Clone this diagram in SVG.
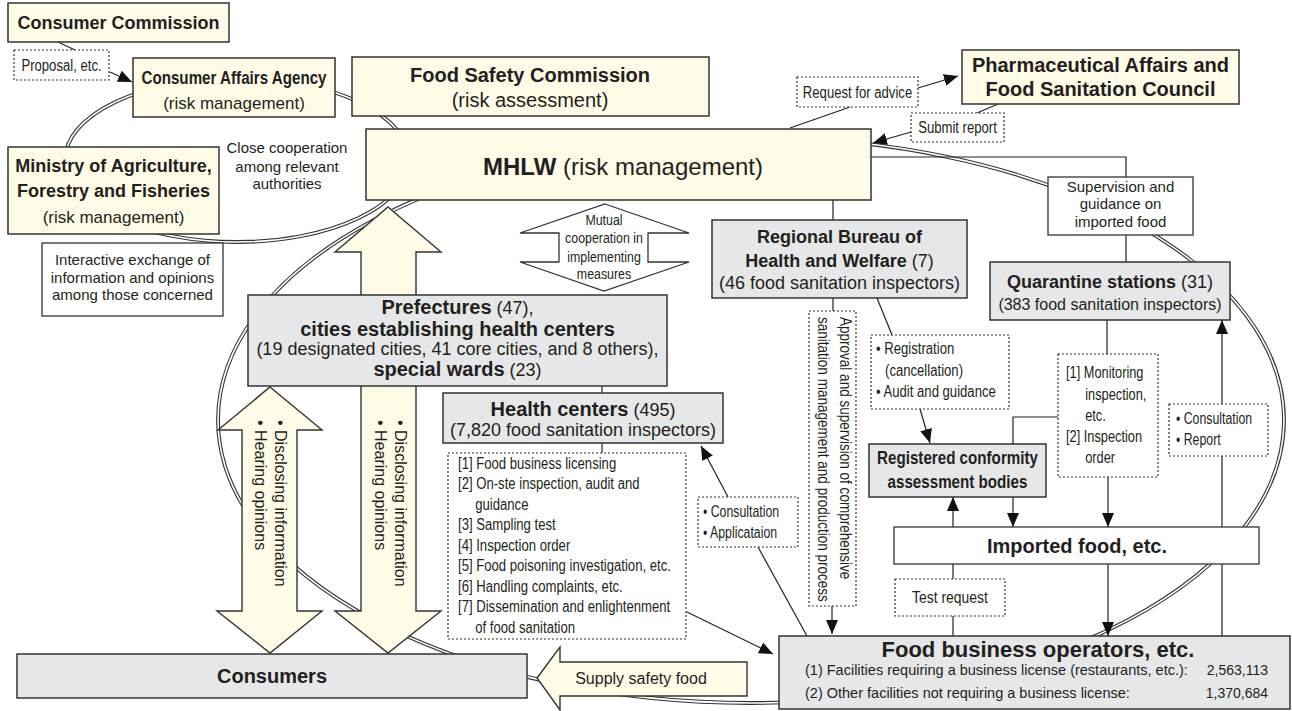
<svg xmlns="http://www.w3.org/2000/svg" width="1292" height="711" viewBox="0 0 1292 711">
<defs>
<style>
.cream{fill:#fffbe6;stroke:#333;stroke-width:1.5}
.gray{fill:#e6e7e8;stroke:#333;stroke-width:1.5}
.wbox{fill:#fff;stroke:#333;stroke-width:1.3}
.dot{fill:#fff;stroke:#333;stroke-width:1.2;stroke-dasharray:2 2}
.ell1{fill:none;stroke:#333;stroke-width:3.8}
.ell2{fill:none;stroke:#fff;stroke-width:1.6}
.big{fill:#fffbe6;stroke:#333;stroke-width:1.4}
.con{fill:none;stroke:#222;stroke-width:1.2}
.b{font-family:"Liberation Sans",Arial,sans-serif;font-weight:bold;fill:#231f20}
.r{font-family:"Liberation Sans",Arial,sans-serif;fill:#231f20}
.n{font-family:"Liberation Sans",Arial,sans-serif;fill:#231f20}
.nb{font-family:"Liberation Sans",Arial,sans-serif;font-weight:bold;fill:#231f20}
</style>
<marker id="ah" viewBox="0 0 14 12" refX="14" refY="6" markerWidth="14" markerHeight="12" markerUnits="userSpaceOnUse" orient="auto"><path d="M0,0 L14,6 L0,12 z" fill="#111"/></marker>
</defs>

<g id="cooperation-rings">
<ellipse class="ell1" cx="237" cy="160" rx="172" ry="82"/>
<ellipse class="ell2" cx="237" cy="160" rx="172" ry="82"/>
<ellipse class="ell1" cx="751" cy="420" rx="533" ry="283"/>
<ellipse class="ell2" cx="751" cy="420" rx="533" ry="283"/>
</g>

<g id="connectors">
<line class="con" x1="58" y1="42" x2="75" y2="50"/>
<line class="con" x1="110" y1="72" x2="132" y2="82" marker-end="url(#ah)"/>
<line class="con" x1="790" y1="128" x2="850" y2="107"/>
<line class="con" x1="918" y1="88" x2="958" y2="76" marker-end="url(#ah)"/>
<line class="con" x1="998" y1="104" x2="977" y2="113"/>
<line class="con" x1="911" y1="132" x2="873" y2="143" marker-end="url(#ah)"/>
<polyline class="con" points="871,157 1126,157 1126,177"/>
<line class="con" x1="1126" y1="235" x2="1126" y2="262"/>
<line class="con" x1="833" y1="200" x2="833" y2="220"/>
<line class="con" x1="833" y1="298" x2="833" y2="311"/>
<line class="con" x1="877" y1="298" x2="892" y2="335"/>
<line class="con" x1="920" y1="409" x2="930" y2="443" marker-end="url(#ah)"/>
<line class="con" x1="1107" y1="320" x2="1107" y2="354"/>
<line class="con" x1="1108" y1="477" x2="1108" y2="527" marker-end="url(#ah)"/>
<polyline class="con" points="1058,417 1013,417 1013,444"/>
<line class="con" x1="1013" y1="497" x2="1013" y2="527" marker-end="url(#ah)"/>
<line class="con" x1="953" y1="527" x2="953" y2="497" marker-end="url(#ah)"/>
<line class="con" x1="953" y1="564" x2="953" y2="636"/>
<line class="con" x1="1108" y1="564" x2="1108" y2="636" marker-end="url(#ah)"/>
<line class="con" x1="1222" y1="636" x2="1222" y2="320" marker-end="url(#ah)"/>
<line class="con" x1="602" y1="386" x2="602" y2="453"/>
<line class="con" x1="687" y1="612" x2="773" y2="654" marker-end="url(#ah)"/>
<line class="con" x1="728" y1="497" x2="701" y2="446" marker-end="url(#ah)"/>
<line class="con" x1="758" y1="547" x2="807" y2="636"/>
<line class="con" x1="832" y1="606" x2="832" y2="634" marker-end="url(#ah)"/>
</g>

<g id="arrow-info-left">
<polygon class="big" points="270,387 322,430 297,430 297,611 322,611 270,653 217,611 242,611 242,430 218,430"/>
<text class="r" font-size="16" transform="translate(275,420) rotate(90)">• Disclosing information</text>
<text class="r" font-size="16" transform="translate(255,420) rotate(90)">• Hearing opinions</text>
</g>
<g id="arrow-info-right">
<polygon class="big" points="388,207 441,252 416,252 416,611 441,611 388,653 335,611 361,611 361,252 335,252"/>
<text class="r" font-size="16" transform="translate(395,420) rotate(90)">• Disclosing information</text>
<text class="r" font-size="16" transform="translate(375,420) rotate(90)">• Hearing opinions</text>
</g>
<g id="arrow-mutual">
<polygon class="wbox" points="605,204 689,233 648,233 648,262 689,262 604,291 520,262 559,262 559,233 520,233"/>
<text class="n" font-size="15.5" text-anchor="middle" transform="translate(604,0) scale(0.8,1)"><tspan x="0" y="225">Mutual</tspan><tspan x="0" y="243">cooperation in</tspan><tspan x="0" y="262">implementing</tspan><tspan x="0" y="279">measures</tspan></text>
</g>
<g id="arrow-supply">
<polygon class="big" points="537,678 560,647 560,662 747,662 747,696 560,696 560,710"/>
<text class="r" font-size="16" x="641" y="684" text-anchor="middle">Supply safety food</text>
</g>

<g id="consumer-commission">
<rect class="cream" x="8" y="3" width="221" height="39"/>
<text class="b" font-size="18" x="118.5" y="29" text-anchor="middle">Consumer Commission</text>
</g>
<g id="proposal">
<rect class="dot" x="14" y="50" width="95" height="30"/>
<text class="n" font-size="16" text-anchor="middle" transform="translate(61.5,70.5) scale(0.82,1)">Proposal, etc.</text>
</g>
<g id="consumer-affairs-agency">
<rect class="cream" x="133" y="58" width="202" height="59"/>
<text class="nb" font-size="18.5" text-anchor="middle" transform="translate(234,84) scale(0.82,1)">Consumer Affairs Agency</text>
<text class="r" font-size="17" x="234" y="109" text-anchor="middle">(risk management)</text>
</g>
<g id="food-safety-commission">
<rect class="cream" x="352" y="57" width="357" height="59"/>
<text class="b" font-size="20" x="530" y="82" text-anchor="middle">Food Safety Commission</text>
<text class="r" font-size="20" x="530" y="107" text-anchor="middle">(risk assessment)</text>
</g>
<g id="maff">
<rect class="cream" x="8" y="147" width="211" height="87"/>
<text class="b" font-size="18" x="113.5" y="172" text-anchor="middle">Ministry of Agriculture,</text>
<text class="b" font-size="18" x="113.5" y="197" text-anchor="middle">Forestry and Fisheries</text>
<text class="r" font-size="17" x="113.5" y="223" text-anchor="middle">(risk management)</text>
</g>
<g id="close-cooperation">
<text class="r" font-size="15" text-anchor="middle"><tspan x="287" y="153">Close cooperation</tspan><tspan x="287" y="172">among relevant</tspan><tspan x="287" y="189">authorities</tspan></text>
</g>
<g id="interactive-exchange">
<rect class="wbox" x="42" y="243" width="181" height="73"/>
<text class="r" font-size="15" text-anchor="middle"><tspan x="132.5" y="265">Interactive exchange of</tspan><tspan x="132.5" y="283">information and opinions</tspan><tspan x="132.5" y="300">among those concerned</tspan></text>
</g>
<g id="mhlw">
<rect class="cream" x="366" y="129" width="505" height="71"/>
<text font-size="24" x="623" y="175" text-anchor="middle"><tspan class="b">MHLW</tspan><tspan class="r"> (risk management)</tspan></text>
</g>
<g id="pafsc">
<rect class="cream" x="962" y="50" width="277" height="54"/>
<text class="b" font-size="20" x="1100.5" y="72" text-anchor="middle">Pharmaceutical Affairs and</text>
<text class="b" font-size="20" x="1100.5" y="96" text-anchor="middle">Food Sanitation Council</text>
</g>
<g id="request-advice">
<rect class="dot" x="797" y="77" width="121" height="30"/>
<text class="n" font-size="16" text-anchor="middle" transform="translate(857.5,97.5) scale(0.82,1)">Request for advice</text>
</g>
<g id="submit-report">
<rect class="dot" x="911" y="113" width="93" height="29"/>
<text class="n" font-size="16" text-anchor="middle" transform="translate(957.5,133) scale(0.82,1)">Submit report</text>
</g>
<g id="supervision-imported">
<rect class="wbox" x="1048" y="177" width="145" height="58"/>
<text class="r" font-size="15" text-anchor="middle"><tspan x="1120.5" y="192">Supervision and</tspan><tspan x="1120.5" y="209">guidance on</tspan><tspan x="1120.5" y="227">imported food</tspan></text>
</g>
<g id="quarantine-stations">
<rect class="gray" x="990" y="262" width="240" height="58"/>
<text font-size="18" x="1110" y="288" text-anchor="middle"><tspan class="b">Quarantine stations</tspan><tspan class="r"> (31)</tspan></text>
<text class="r" font-size="16" x="1110" y="310" text-anchor="middle">(383 food sanitation inspectors)</text>
</g>
<g id="regional-bureau">
<rect class="gray" x="712" y="220" width="255" height="78"/>
<text class="b" font-size="18" x="839.5" y="243" text-anchor="middle">Regional Bureau of</text>
<text font-size="18" x="839.5" y="267" text-anchor="middle"><tspan class="b">Health and Welfare</tspan><tspan class="r"> (7)</tspan></text>
<text class="r" font-size="18" x="839.5" y="289" text-anchor="middle">(46 food sanitation inspectors)</text>
</g>
<g id="prefectures">
<rect class="gray" x="248" y="295" width="419" height="91"/>
<text font-size="20" x="457.5" y="314" text-anchor="middle"><tspan class="b">Prefectures</tspan><tspan class="r" font-size="18"> (47),</tspan></text>
<text class="b" font-size="20" x="457.5" y="336" text-anchor="middle">cities establishing health centers</text>
<text class="r" font-size="18" x="457.5" y="355" text-anchor="middle">(19 designated cities, 41 core cities, and 8 others),</text>
<text font-size="20" x="457.5" y="376" text-anchor="middle"><tspan class="b">special wards</tspan><tspan class="r" font-size="18"> (23)</tspan></text>
</g>
<g id="health-centers">
<rect class="gray" x="443" y="393" width="280" height="50"/>
<text font-size="20" x="583" y="416" text-anchor="middle"><tspan class="b">Health centers</tspan><tspan class="r" font-size="18"> (495)</tspan></text>
<text class="r" font-size="18" x="583" y="436" text-anchor="middle">(7,820 food sanitation inspectors)</text>
</g>
<g id="health-center-tasks">
<rect class="dot" x="448" y="453" width="238" height="186"/>
<text class="n" font-size="16" transform="translate(458,0) scale(0.82,1)">
<tspan x="0" y="469">[1] Food business licensing</tspan>
<tspan x="0" y="489">[2] On-ste inspection, audit and</tspan>
<tspan x="21" y="510">guidance</tspan>
<tspan x="0" y="530">[3] Sampling test</tspan>
<tspan x="0" y="551">[4] Inspection order</tspan>
<tspan x="0" y="571">[5] Food poisoning investigation, etc.</tspan>
<tspan x="0" y="592">[6] Handling complaints, etc.</tspan>
<tspan x="0" y="612">[7] Dissemination and enlightenment</tspan>
<tspan x="21" y="633">of food sanitation</tspan>
</text>
</g>
<g id="consultation-application">
<rect class="dot" x="698" y="497" width="100" height="50"/>
<text class="n" font-size="16" transform="translate(703,0) scale(0.77,1)"><tspan x="0" y="517">• Consultation</tspan><tspan x="0" y="538">• Applicataion</tspan></text>
</g>
<g id="approval-supervision">
<rect class="dot" x="809" y="311" width="47" height="295"/>
<text class="n" font-size="16.5" transform="translate(840,317) rotate(90) scale(0.82,1)">Approval and supervision of comprehensive</text>
<text class="n" font-size="16.5" transform="translate(818,317) rotate(90) scale(0.82,1)">sanitation management and production process</text>
</g>
<g id="registration">
<rect class="dot" x="871" y="335" width="138" height="74"/>
<text class="n" font-size="16" transform="translate(876,0) scale(0.82,1)"><tspan x="0" y="354">• Registration</tspan><tspan x="11" y="376">(cancellation)</tspan><tspan x="0" y="397">• Audit and guidance</tspan></text>
</g>
<g id="conformity-bodies">
<rect class="gray" x="869" y="444" width="177" height="53"/>
<text class="nb" font-size="18.5" text-anchor="middle" transform="translate(957.5,0) scale(0.82,1)"><tspan x="0" y="464">Registered conformity</tspan><tspan x="0" y="488">assessment bodies</tspan></text>
</g>
<g id="monitoring">
<rect class="dot" x="1058" y="354" width="100" height="123"/>
<text class="n" font-size="16" transform="translate(1066,0) scale(0.8,1)"><tspan x="0" y="378">[1] Monitoring</tspan><tspan x="24" y="400">inspection,</tspan><tspan x="24" y="421">etc.</tspan><tspan x="0" y="442">[2] Inspection</tspan><tspan x="24" y="463">order</tspan></text>
</g>
<g id="consultation-report">
<rect class="dot" x="1169" y="404" width="99" height="52"/>
<text class="n" font-size="16" transform="translate(1176,0) scale(0.77,1)"><tspan x="0" y="424">• Consultation</tspan><tspan x="0" y="445">• Report</tspan></text>
</g>
<g id="imported-food">
<rect class="wbox" x="894" y="527" width="365" height="37"/>
<text class="b" font-size="20" x="1077" y="553" text-anchor="middle">Imported food, etc.</text>
</g>
<g id="test-request">
<rect class="dot" x="895" y="579" width="110" height="37"/>
<text class="n" font-size="17" text-anchor="middle" transform="translate(950,603) scale(0.82,1)">Test request</text>
</g>
<g id="food-business-operators">
<rect class="gray" x="779" y="636" width="511" height="73"/>
<text class="b" font-size="22" x="1038" y="657" text-anchor="middle">Food business operators, etc.</text>
<text class="r" font-size="14.5" x="805" y="675">(1) Facilities requiring a business license (restaurants, etc.):</text>
<text class="r" font-size="14" x="1268" y="675" text-anchor="end">2,563,113</text>
<text class="r" font-size="14.5" x="805" y="698">(2) Other facilities not requiring a business license:</text>
<text class="r" font-size="14" x="1268" y="698" text-anchor="end">1,370,684</text>
</g>
<g id="consumers">
<rect class="gray" x="17" y="654" width="510" height="44"/>
<text class="b" font-size="20" x="272" y="683" text-anchor="middle">Consumers</text>
</g>
</svg>
